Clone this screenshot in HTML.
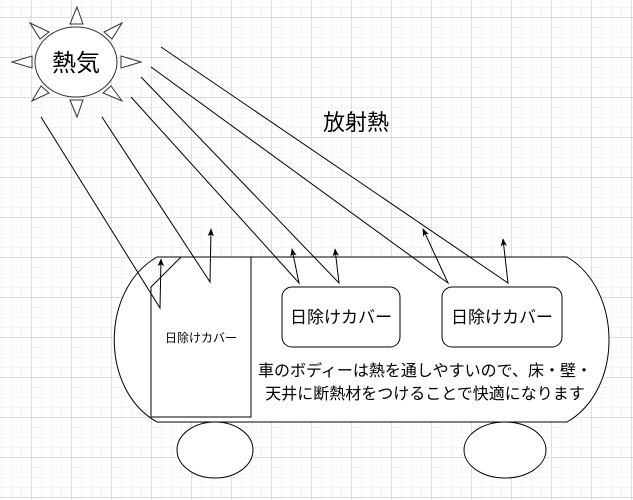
<!DOCTYPE html>
<html><head><meta charset="utf-8"><style>
html,body{margin:0;padding:0;}
body{width:633px;height:500px;overflow:hidden;background:#fff;
background-image:
linear-gradient(to right,#dedede 1px,transparent 1px),
linear-gradient(to bottom,#dedede 1px,transparent 1px),
linear-gradient(to right,#f3f3f3 1px,transparent 1px),
linear-gradient(to bottom,#f3f3f3 1px,transparent 1px);
background-size:40px 40px,40px 40px,10px 10px,10px 10px;
background-position:31px 17px,31px 17px,1px 7px,1px 7px;}
svg{position:absolute;left:0;top:0;}
text{font-family:"Liberation Sans","Noto Sans CJK JP",sans-serif;fill:#000;}
</style></head><body>
<svg width="633" height="500" viewBox="0 0 633 500">
<defs><marker id="a" viewBox="0 0 10 10" refX="9" refY="5" markerWidth="8" markerHeight="8" orient="auto"><path d="M0,1 L10,5 L0,9 L2.5,5z" fill="#000"/></marker></defs>
<g fill="#fff" stroke="#333" stroke-width="1">
<ellipse cx="76" cy="62" rx="41" ry="35"/>
<polygon points="77,7 70,24 83,24"/>
<polygon points="77,117 70,100 83,100"/>
<polygon points="12,62 32,56 32,68"/>
<polygon points="141,62 121,56 121,68"/>
<polygon points="30,23 49,32 40,39"/>
<polygon points="122,23 104,32 112,39"/>
<polygon points="32,101 41,86 49,93"/>
<polygon points="122,101 111,86 103,93"/>
</g>
<text x="76" y="71" font-size="24" text-anchor="middle">熱気</text>
<text x="356" y="130" font-size="22" text-anchor="middle">放射熱</text>
<g fill="#fff" stroke="#000" stroke-width="1">
<path d="M157,257 L567,257 C623,290 623,390 567,422 L157,422 C100,390 100,290 157,257Z"/>
<path d="M151,287 L181,257 L251,257 L251,417 L151,417Z"/>
<rect x="282" y="287" width="118" height="60" rx="10"/>
<rect x="442" y="287" width="120" height="60" rx="10"/>
<ellipse cx="215" cy="450" rx="38" ry="28"/>
<ellipse cx="505" cy="450" rx="41" ry="28"/>
</g>
<text x="201" y="342" font-size="12" text-anchor="middle">日除けカバー</text>
<text x="341" y="323" font-size="17" text-anchor="middle">日除けカバー</text>
<text x="502" y="323" font-size="17" text-anchor="middle">日除けカバー</text>
<text x="425" y="376" font-size="16" text-anchor="middle">車のボディーは熱を通しやすいので、床・壁・</text>
<text x="425" y="399" font-size="16" text-anchor="middle">天井に断熱材をつけることで快適になります</text>
<g fill="none" stroke="#000" stroke-width="1">
<polyline points="41,117 160,308 161,259" marker-end="url(#a)"/>
<polyline points="102,117 210,282 211,229" marker-end="url(#a)"/>
<polyline points="131,97 299,283 292,249" marker-end="url(#a)"/>
<polyline points="141,77 339,283 335,249" marker-end="url(#a)"/>
<polyline points="151,67 448,283 423,229" marker-end="url(#a)"/>
<polyline points="161,47 508,283 503,239" marker-end="url(#a)"/>
</g>
</svg>
</body></html>
